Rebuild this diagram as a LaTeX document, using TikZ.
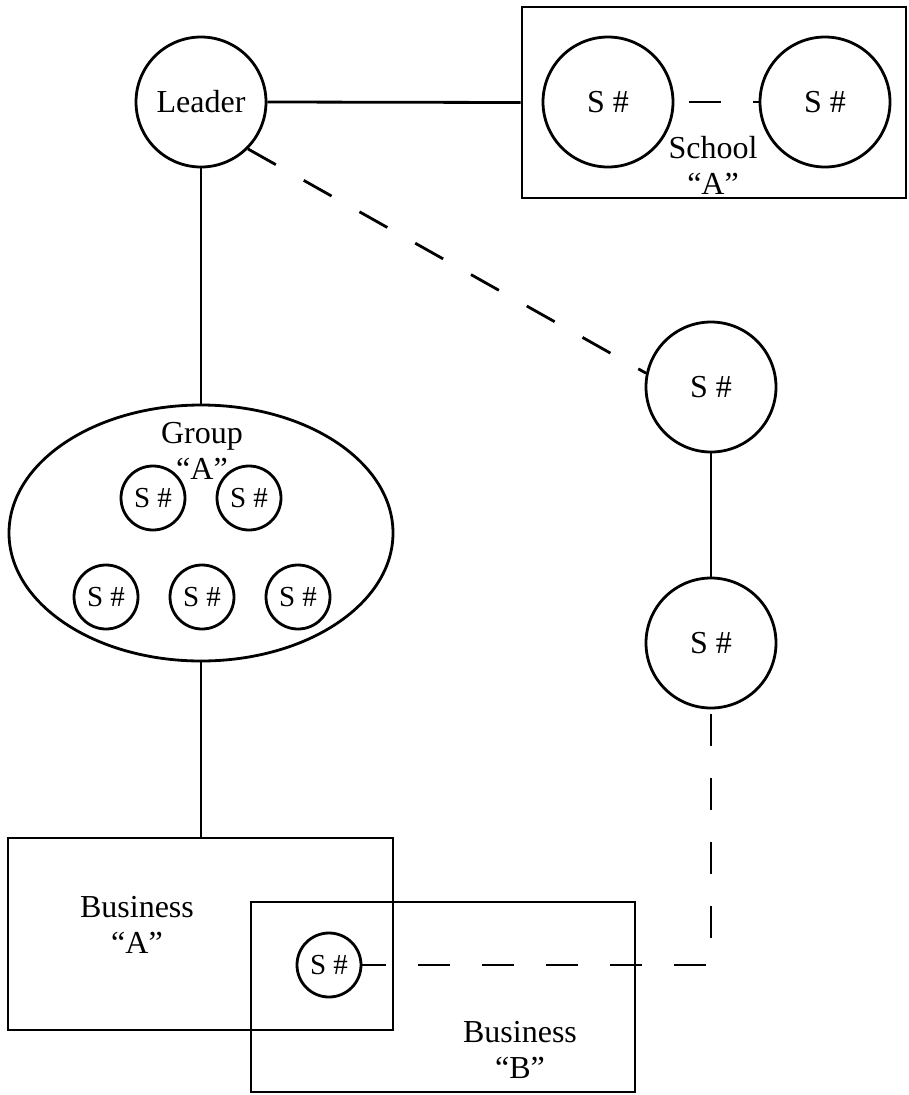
\documentclass[tikz,border=0pt]{standalone}
\usepackage{fontspec}
\setmainfont{Liberation Serif}
\usetikzlibrary{shapes.geometric}

\begin{document}
\begin{tikzpicture}[x=1pt,y=-1pt,line width=2.8pt,
    font=\fontsize{32}{36}\selectfont,
    bigcirc/.style={draw,circle,minimum size=130pt,inner sep=0pt},
    smallcirc/.style={draw,circle,minimum size=64pt,inner sep=0pt,font=\fontsize{29}{32}\selectfont},
    frame/.style={draw,rectangle,inner sep=0pt},
    lbl/.style={align=center,inner sep=0pt},
    dashlink/.style={dash pattern=on 32pt off 32pt}]
    \useasboundingbox (0,0) rectangle (908,1095);

    % leader and school A
    \node[bigcirc] (leader) at (201,102) {Leader};
    \node[frame,minimum width=384pt,minimum height=191pt] (school) at (714,102.5) {};
    \node[bigcirc] (sch1) at (608,102) {S \#};
    \node[bigcirc] (sch2) at (825,102) {S \#};
    \node[lbl] (schoollbl) at (713,165) {School\\“A”};

    % group A
    \node[draw,ellipse,minimum width=384pt,minimum height=256pt,inner sep=0pt] (group) at (201,533) {};
    \node[lbl] (grouplbl) at (202,451) {Group\\“A”};
    \node[smallcirc] (g1) at (153,498) {S \#};
    \node[smallcirc] (g2) at (249,498) {S \#};
    \node[smallcirc] (g3) at (106,597) {S \#};
    \node[smallcirc] (g4) at (202,597) {S \#};
    \node[smallcirc] (g5) at (298,597) {S \#};

    % right column
    \node[bigcirc] (s1) at (711,387) {S \#};
    \node[bigcirc] (s2) at (711,643) {S \#};

    % businesses
    \node[frame,minimum width=385pt,minimum height=192pt] (busA) at (200.5,934) {};
    \node[frame,minimum width=384pt,minimum height=190pt] (busB) at (443,997) {};
    \node[lbl] (busAlbl) at (137,925) {Business\\“A”};
    \node[lbl] (busBlbl) at (520,1050) {Business\\“B”};
    \node[smallcirc] (sbiz) at (329,965) {S \#};

    % connectors
    \draw (leader.east) -- (school.west);
    \draw[dashlink,dash phase=49pt] (sch1.east) -- (sch2.west);
    \draw (leader.south) -- (group.north);
    \draw (group.south) -- (group.south |- busA.north);
    \draw[dashlink] (leader.-45) -- (s1.168);
    \draw (s1.south) -- (s2.north);
    \draw[dashlink,dash phase=59pt] (s2.south) |- (sbiz.east);
\end{tikzpicture}
\end{document}
